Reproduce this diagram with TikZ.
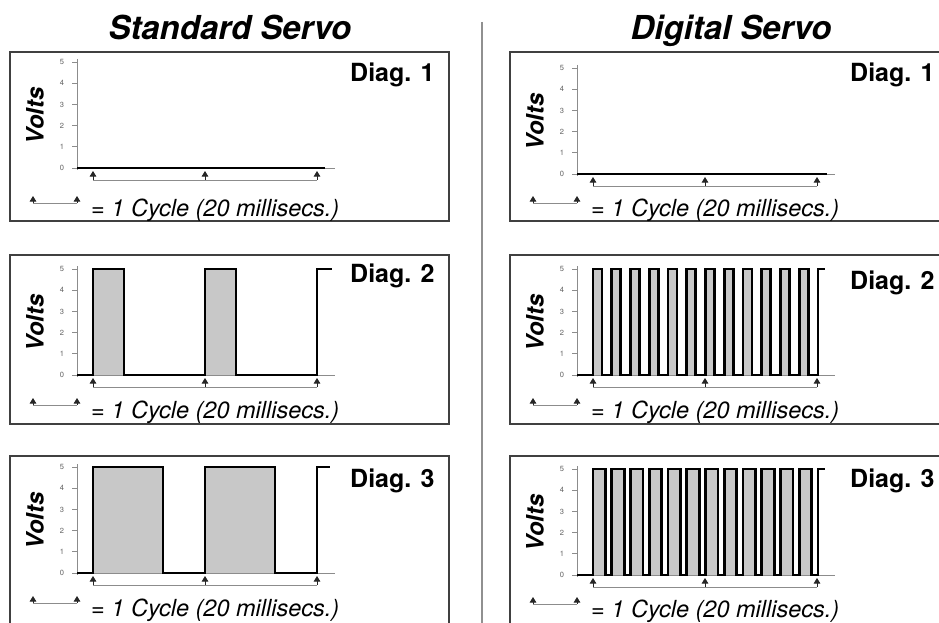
\documentclass[tikz,border=0pt]{standalone}
\usepackage{fontspec}
\setmainfont{TeX Gyre Heros}
\usetikzlibrary{arrows.meta}
\definecolor{boxc}{HTML}{404040}
\definecolor{axisc}{HTML}{8C8C8C}
\definecolor{tickc}{HTML}{606060}
\definecolor{fillc}{HTML}{C8C8C8}
\definecolor{divc}{HTML}{909090}
\tikzset{
  frame/.style={draw=boxc, line width=1.6pt},
  axisline/.style={draw=axisc, line width=0.9pt},
  thinline/.style={draw=axisc, line width=0.9pt},
  sig/.style={draw=black, line width=2.8pt, line join=miter},
  ticklab/.style={font=\fontsize{7.5}{7.5}\selectfont, text=tickc, inner sep=0pt},
  marker/.style={draw=black!85, line width=0.9pt, -{Triangle[width=6.5pt,length=5.5pt]}},
  legtext/.style={font=\fontsize{23.5}{23.5}\itshape\selectfont, inner sep=0pt},
  voltslab/.style={font=\fontsize{24}{24}\bfseries\itshape\selectfont, inner sep=0pt},
  diaglab/.style={font=\fontsize{25}{25}\bfseries\selectfont, inner sep=0pt},
  titlelab/.style={font=\fontsize{33}{33}\bfseries\itshape\selectfont, inner sep=0pt},
  divider/.style={draw=divc, line width=2.6pt}
}
% #1 x shift, #2 box top, #3 zero line y, #4 diag number, #5 id, #6 diag baseline y, #7 legend line y
\newcommand\servopanel[7]{%
\begin{scope}[shift={(#1,0)}]
  \draw[frame] (10,#2) rectangle (449,#2+169);
  \draw[axisline] (77,#3-109) -- (77,#3+2);
  \draw[axisline] (77,#3) -- (335,#3);
  \foreach \v in {0,...,5} {
    \draw[axisline] (72,{#3-21.2*\v}) -- (77,{#3-21.2*\v});
    \node[ticklab] at (62,{#3-21.2*\v}) {\v};
  }
  \foreach \mx in {93,205,317} {
    \draw[marker] (\mx,#3+12) -- (\mx,#3+3);
  }
  \draw[thinline] (93,#3+12) -- (317,#3+12);
  \draw[thinline] (33,#7) -- (77,#7);
  \draw[marker] (33,#7) -- (33,#7-7);
  \draw[marker] (77,#7) -- (77,#7-7);
  \node[legtext, anchor=base west] (leg#5) at (91,#7+13) {= 1 Cycle (20 millisecs.)};
  \node[voltslab, rotate=90] (volts#5) at (35,#3-52) {Volts};
  \node[diaglab, anchor=base west] (diag#5) at (350,#6) {Diag. #4};
\end{scope}}
\begin{document}
\begin{tikzpicture}[x=1pt,y=-1pt]
\clip (0,0) rectangle (939,623);
\fill[white] (0,0) rectangle (939,623);
% titles
\node[titlelab, anchor=base] (tstd) at (230,40) {Standard Servo};
\node[titlelab, anchor=base] (tdig) at (731,40) {Digital Servo};
\coordinate (dtop) at (482,22);
\coordinate (dbot) at (482,623);
\draw[divider] (dtop) -- (dbot);

% ---------- Standard Servo ----------
\servopanel{0}{52}{168}{1}{L1}{82}{203}
\draw[sig] (77,168) -- (325,168);

\servopanel{0}{255}{375}{2}{L2}{282}{405}
\fill[fillc] (93,269) rectangle (124,375);
\fill[fillc] (205,269) rectangle (236,375);
\draw[sig] (77,375) -- (93,375) -- (93,269) -- (124,269) -- (124,375)
  -- (205,375) -- (205,269) -- (236,269) -- (236,375)
  -- (317,375) -- (317,269) -- (332,269);

\servopanel{0}{456}{573}{3}{L3}{487}{603}
\fill[fillc] (93,467) rectangle (163,573);
\fill[fillc] (205,467) rectangle (275,573);
\draw[sig] (77,573) -- (93,573) -- (93,467) -- (163,467) -- (163,573)
  -- (205,573) -- (205,467) -- (275,467) -- (275,573)
  -- (317,573) -- (317,467) -- (330,467);

% ---------- Digital Servo ----------
\servopanel{500}{52}{174}{1}{R1}{82}{203}
\draw[sig] (577,174) -- (827,174);

\servopanel{500}{255}{375}{2}{R2}{289}{405}
\begin{scope}[shift={(500,0)}]
  \foreach \i in {0,...,11} {
    \fill[fillc] ({93+18.75*\i},269) rectangle ({102+18.75*\i},375);
  }
  \draw[sig] (77,375) foreach \i in {0,...,11} {
      -- ({93+18.75*\i},375) -- ({93+18.75*\i},269)
      -- ({102+18.75*\i},269) -- ({102+18.75*\i},375) }
    -- (318,375) -- (318,269) -- (325,269);
\end{scope}

\servopanel{500}{456}{575}{3}{R3}{487}{604}
\begin{scope}[shift={(500,0)}]
  \foreach \i in {0,...,11} {
    \fill[fillc] ({93+18.75*\i},469) rectangle ({105.5+18.75*\i},575);
  }
  \draw[sig] (77,575) foreach \i in {0,...,11} {
      -- ({93+18.75*\i},575) -- ({93+18.75*\i},469)
      -- ({105.5+18.75*\i},469) -- ({105.5+18.75*\i},575) }
    -- (318,575) -- (318,469) -- (325,469);
\end{scope}
\end{tikzpicture}
\end{document}
